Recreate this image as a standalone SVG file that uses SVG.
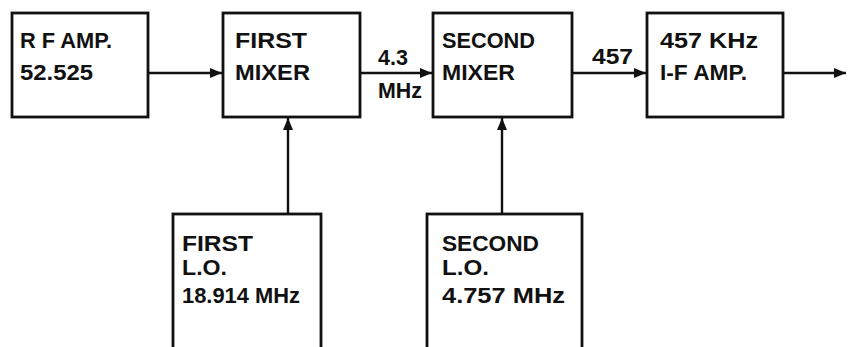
<svg xmlns="http://www.w3.org/2000/svg" width="849" height="347" viewBox="0 0 849 347">
<style>
.box{fill:#fff;stroke:#111;stroke-width:2.8}
.t{font-family:"Liberation Sans",Arial,sans-serif;font-weight:bold;font-size:22.5px;fill:#111}
.c{stroke:#111;stroke-width:2.4;fill:none}
</style>
<defs>
<marker id="ah" viewBox="0 0 12 10" refX="12" refY="5" markerWidth="12" markerHeight="10" markerUnits="userSpaceOnUse" orient="auto">
<path d="M0,0 L12,5 L0,10 Z" fill="#111"/>
</marker>
</defs>
<rect width="849" height="347" fill="#fff"/>
<g id="connectors">
<line class="c" x1="148" y1="73" x2="222" y2="73" marker-end="url(#ah)"/>
<line class="c" x1="360" y1="73" x2="432" y2="73" marker-end="url(#ah)"/>
<line class="c" x1="572" y1="73" x2="646" y2="73" marker-end="url(#ah)"/>
<line class="c" x1="783" y1="73" x2="846" y2="73" marker-end="url(#ah)"/>
<line class="c" x1="288" y1="214" x2="288" y2="118" marker-end="url(#ah)"/>
<line class="c" x1="502" y1="214" x2="502" y2="118" marker-end="url(#ah)"/>
<text class="t" x="378" y="65" textLength="30" lengthAdjust="spacingAndGlyphs">4.3</text>
<text class="t" x="378" y="98" textLength="44" lengthAdjust="spacingAndGlyphs">MHz</text>
<text class="t" x="592" y="64" textLength="41" lengthAdjust="spacingAndGlyphs">457</text>
</g>
<g id="rf-amp">
<rect class="box" x="12" y="13" width="136" height="104"/>
<text class="t" x="20" y="48" textLength="92" lengthAdjust="spacingAndGlyphs">R F AMP.</text>
<text class="t" x="20" y="80" textLength="73" lengthAdjust="spacingAndGlyphs">52.525</text>
</g>
<g id="first-mixer">
<rect class="box" x="223" y="13" width="137" height="104"/>
<text class="t" x="235" y="48" textLength="72" lengthAdjust="spacingAndGlyphs">FIRST</text>
<text class="t" x="235" y="80" textLength="75" lengthAdjust="spacingAndGlyphs">MIXER</text>
</g>
<g id="second-mixer">
<rect class="box" x="433" y="13" width="139" height="104"/>
<text class="t" x="442" y="48" textLength="93" lengthAdjust="spacingAndGlyphs">SECOND</text>
<text class="t" x="442" y="80" textLength="73" lengthAdjust="spacingAndGlyphs">MIXER</text>
</g>
<g id="if-amp">
<rect class="box" x="647" y="13" width="136" height="104"/>
<text class="t" x="660" y="48" textLength="98" lengthAdjust="spacingAndGlyphs">457 KHz</text>
<text class="t" x="660" y="80" textLength="87" lengthAdjust="spacingAndGlyphs">I-F AMP.</text>
</g>
<g id="first-lo">
<rect class="box" x="173" y="214" width="148" height="150"/>
<text class="t" x="182" y="251" textLength="71" lengthAdjust="spacingAndGlyphs">FIRST</text>
<text class="t" x="182" y="275" textLength="45" lengthAdjust="spacingAndGlyphs">L.O.</text>
<text class="t" x="182" y="303" textLength="118" lengthAdjust="spacingAndGlyphs">18.914 MHz</text>
</g>
<g id="second-lo">
<rect class="box" x="427" y="214" width="155" height="150"/>
<text class="t" x="442" y="251" textLength="97" lengthAdjust="spacingAndGlyphs">SECOND</text>
<text class="t" x="442" y="275" textLength="47" lengthAdjust="spacingAndGlyphs">L.O.</text>
<text class="t" x="442" y="303" textLength="123" lengthAdjust="spacingAndGlyphs">4.757 MHz</text>
</g>
</svg>
